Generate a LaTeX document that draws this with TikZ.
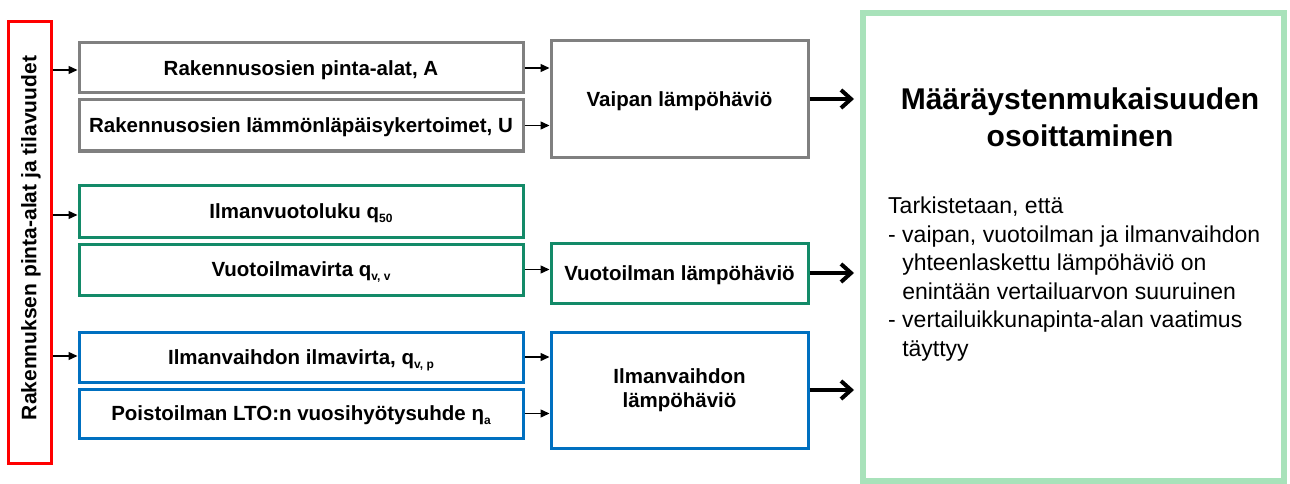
\documentclass[tikz,border=0pt]{standalone}
\usepackage{fontspec}
\setmainfont{Liberation Sans}
\usetikzlibrary{arrows.meta}
\definecolor{boxgray}{RGB}{128,128,128}
\definecolor{boxgreen}{RGB}{19,138,104}
\definecolor{boxblue}{RGB}{0,112,192}
\definecolor{boxred}{RGB}{255,0,0}
\definecolor{lightgreen}{RGB}{168,226,186}
\newcommand\sbs[1]{\raisebox{-4pt}{\fontsize{12}{12}\selectfont\bfseries #1}}
\tikzset{
  inbox/.style={draw, line width=3pt, inner sep=0pt, align=center, text=black,
    font=\bfseries\fontsize{20.5}{24.5}\selectfont},
  oneline/.style={inbox, text height=14.7pt, text depth=0pt},
  thinarrow/.style={line width=1.4pt, -{Triangle[length=9pt,width=8pt]}},
  thickarrow/.style={line width=4pt, -{Straight Barb[length=10pt,width=18pt]}},
}
\begin{document}
\begin{tikzpicture}[x=1pt,y=-1pt]
\useasboundingbox (0,0) rectangle (1290,484);
% left red box
\node[inbox, draw=boxred, minimum width=43pt, minimum height=441pt] (red) at (29.5,242.5) {};
\node[rotate=90, font=\bfseries\fontsize{21}{24}\selectfont, inner sep=0pt] (redlabel) at (31,238) {Rakennuksen pinta-alat ja tilavuudet};
% gray group
\node[oneline, draw=boxgray, minimum width=444pt, minimum height=50pt] (g1) at (301,68) {Rakennusosien pinta-alat, A};
\node[oneline, draw=boxgray, minimum width=444pt, minimum height=51pt] (g2) at (301,125.5) {Rakennusosien lämmönläpäisykertoimet, U};
\node[oneline, draw=boxgray, minimum width=257pt, minimum height=116pt] (vaipan) at (679.5,99) {Vaipan lämpöhäviö};
% green group
\node[oneline, draw=boxgreen, minimum width=444pt, minimum height=52pt] (v1) at (301,211) {Ilmanvuotoluku q\sbs{50}};
\node[oneline, draw=boxgreen, minimum width=444pt, minimum height=51pt] (v2) at (301,269.5) {Vuotoilmavirta q\sbs{v, v}};
\node[oneline, draw=boxgreen, minimum width=257pt, minimum height=60pt] (vuot) at (679.5,273) {Vuotoilman lämpöhäviö};
% blue group
\node[oneline, draw=boxblue, minimum width=444pt, minimum height=50pt] (b1) at (301,357) {Ilmanvaihdon ilmavirta, q\sbs{v, p}};
\node[oneline, draw=boxblue, minimum width=444pt, minimum height=49pt] (b2) at (301,413.5) {Poistoilman LTO:n vuosihyötysuhde η\sbs{a}};
\node[inbox, draw=boxblue, minimum width=257pt, minimum height=116pt] (ilma) at (679.5,390) {Ilmanvaihdon\\lämpöhäviö};
% big result box
\node[draw=lightgreen, line width=6pt, minimum width=421pt, minimum height=468pt, inner sep=0pt] (big) at (1073.5,247) {};
\node[anchor=north, align=center, inner sep=0pt, font=\bfseries\fontsize{30}{37}\selectfont] (title) at (1080,88) {Määräystenmukaisuuden\\osoittaminen};
\node[anchor=north west, align=left, inner sep=0pt, font=\fontsize{23}{28.5}\selectfont] (body) at (888,197) {Tarkistetaan, että\\
- vaipan, vuotoilman ja ilmanvaihdon\\
\phantom{- }yhteenlaskettu lämpöhäviö on\\
\phantom{- }enintään vertailuarvon suuruinen\\
- vertailuikkunapinta-alan vaatimus\\
\phantom{- }täyttyy};
% arrows from red box
\coordinate (a1) at (red.east |- 0,70);
\coordinate (a2) at (red.east |- 0,215);
\coordinate (a3) at (red.east |- 0,356);
\draw[thinarrow] (a1) -- (a1 -| g1.west);
\draw[thinarrow] (a2) -- (a2 -| v1.west);
\draw[thinarrow] (a3) -- (a3 -| b1.west);
% arrows into loss boxes
\draw[thinarrow] (g1.east) -- (g1.east -| vaipan.west);
\draw[thinarrow] (g2.east) -- (g2.east -| vaipan.west);
\draw[thinarrow] (v2.east) -- (v2.east -| vuot.west);
\draw[thinarrow] (b1.east) -- (b1.east -| ilma.west);
\draw[thinarrow] (b2.east) -- (b2.east -| ilma.west);
% thick arrows to result
\draw[thickarrow, shorten >=6pt] (vaipan.east) -- (vaipan.east -| big.west);
\draw[thickarrow, shorten >=6pt] (vuot.east) -- (vuot.east -| big.west);
\draw[thickarrow, shorten >=6pt] (ilma.east) -- (ilma.east -| big.west);
\end{tikzpicture}
\end{document}
